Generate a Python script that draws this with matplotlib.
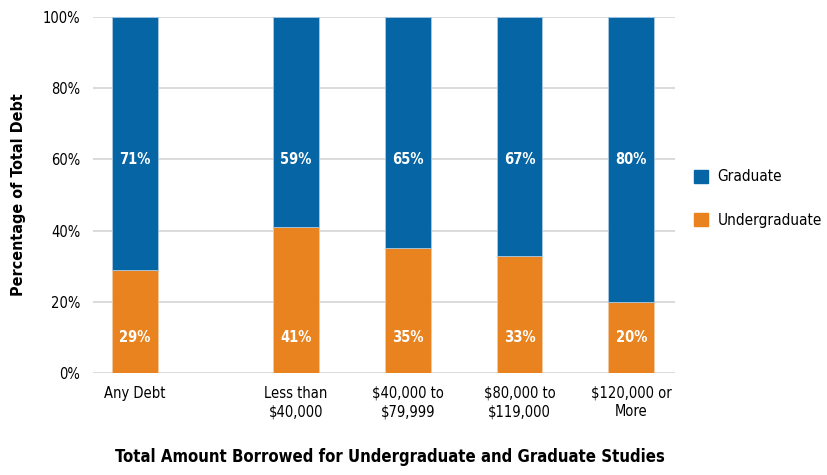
import matplotlib.pyplot as plt
import matplotlib.patches as mpatches
import numpy as np

categories = ["Any Debt", "Less than\n$40,000", "$40,000 to\n$79,999",
              "$80,000 to\n$119,000", "$120,000 or\nMore"]
undergraduate = [29, 41, 35, 33, 20]
graduate = [71, 59, 65, 67, 80]

BLUE = "#0565a5"
ORANGE = "#e8831f"

plt.rcParams['font.family'] = ['DejaVu Sans']
plt.rcParams['font.stretch'] = 'condensed'

# first bar stands apart from the others
x = np.array([0, 1.44, 2.44, 3.44, 4.44])
w = 0.41

fig = plt.figure(figsize=(8.28, 4.75), dpi=100)
ax = fig.add_axes([0.1123, 0.2147, 0.7027, 0.7493])

ax.bar(x, undergraduate, w, color=ORANGE, edgecolor="#f3c9a0", linewidth=0.6, zorder=3)
ax.bar(x, graduate, w, bottom=undergraduate, color=BLUE, edgecolor="#a9c8e0",
       linewidth=0.6, zorder=3)

for xi, u, g in zip(x, undergraduate, graduate):
    ax.text(xi, 60, f"{g}%", ha="center", va="center", color="white",
            fontsize=10.5, fontweight="bold", zorder=4)
    ax.text(xi, 10, f"{u}%", ha="center", va="center", color="white",
            fontsize=10.5, fontweight="bold", zorder=4)

ax.set_ylim(0, 100)
ax.set_xlim(-0.375, 4.83)
ax.set_yticks(range(0, 101, 20))
ax.set_yticklabels([f"{v}%" for v in range(0, 101, 20)], fontsize=10.5)
ax.set_xticks(x)
ax.set_xticklabels(categories, fontsize=10.5, linespacing=1.3)
ax.tick_params(length=0, pad=9)
ax.grid(axis="y", color="#d4d4d4", linewidth=1.2, zorder=0)
for s in ax.spines.values():
    s.set_visible(False)

ax.set_ylabel("Percentage of Total Debt", fontsize=11.5, fontweight="bold", labelpad=12)
fig.text(0.471, 0.02, "Total Amount Borrowed for Undergraduate and Graduate Studies",
         ha="center", va="bottom", fontsize=12, fontweight="bold")

handles = [mpatches.Patch(color=BLUE, label="Graduate"),
           mpatches.Patch(color=ORANGE, label="Undergraduate")]
ax.legend(handles=handles, loc="center left", bbox_to_anchor=(1.01, 0.49),
          frameon=False, fontsize=11, labelspacing=1.85, handlelength=0.9,
          handleheight=0.9, handletextpad=0.6)

fig.savefig("out.png", dpi=100)
